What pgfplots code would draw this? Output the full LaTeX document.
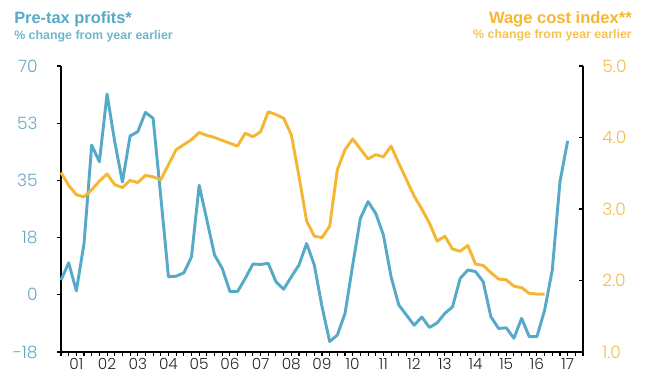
\documentclass[border=0pt]{standalone}
\usepackage{pgfplots}
\usepackage{pgfplotstable}
\pgfplotsset{compat=1.18}
\usepackage{fontspec}
\setmainfont{Liberation Sans}
\IfFontExistsTF{Poppins Light}
  {\newfontfamily\tickfont{Poppins Light}}
  {\newfontfamily\tickfont{Poppins}}

\definecolor{profitblue}{RGB}{86,170,200}
\definecolor{wageorange}{RGB}{245,183,49}
\definecolor{bluelabel}{RGB}{105,168,195}
\definecolor{orangelabel}{RGB}{242,188,82}

% quarter index (0 = Q1 2001), pre-tax profits, % change y/y
\pgfplotstableread{
q v
0 4.5
1 9.8
2 1.2
3 15.7
4 45.8
5 40.7
6 61.4
7 46.8
8 34.5
9 48.6
10 49.9
11 55.8
12 54.0
13 30.0
14 5.5
15 5.7
16 6.7
17 11.6
18 33.5
19 22.9
20 12.2
21 8.1
22 1.0
23 1.0
24 5.0
25 9.4
26 9.3
27 9.6
28 4.0
29 1.7
30 5.5
31 9.1
32 15.7
33 9.1
34 -3.6
35 -14.3
36 -12.3
37 -5.7
38 9.1
39 23.4
40 28.5
41 24.9
42 18.3
43 5.5
44 -3.1
45 -6.2
46 -9.3
47 -6.8
48 -10.0
49 -8.6
50 -5.7
51 -3.7
52 5.0
53 7.6
54 7.1
55 4.0
56 -6.7
57 -10.3
58 -10.1
59 -13.3
60 -7.2
61 -12.8
62 -12.8
63 -4.7
64 7.6
65 34.6
66 47.1
}\profits

% quarter index, wage cost index, % change y/y
\pgfplotstableread{
q v
0 3.51
1 3.33
2 3.20
3 3.17
4 3.27
5 3.39
6 3.49
7 3.34
8 3.30
9 3.40
10 3.37
11 3.47
12 3.45
13 3.41
14 3.62
15 3.83
16 3.90
17 3.97
18 4.07
19 4.03
20 4.00
21 3.96
22 3.92
23 3.88
24 4.06
25 4.01
26 4.08
27 4.36
28 4.32
29 4.27
30 4.04
31 3.46
32 2.83
33 2.62
34 2.60
35 2.76
36 3.55
37 3.83
38 3.98
39 3.84
40 3.70
41 3.76
42 3.73
43 3.88
44 3.64
45 3.41
46 3.18
47 3.00
48 2.80
49 2.55
50 2.62
51 2.44
52 2.41
53 2.49
54 2.23
55 2.21
56 2.11
57 2.02
58 2.01
59 1.92
60 1.90
61 1.82
62 1.81
63 1.81
}\wages

\begin{document}
\begin{tikzpicture}[x=0.75pt,y=0.75pt]
\useasboundingbox (0,0) rectangle (646,378);

\node[anchor=base west, inner sep=0pt, text=profitblue,
      font=\bfseries\fontsize{12.3}{14}\selectfont] at (14,354) {Pre-tax profits*};
\node[anchor=base west, inner sep=0pt, text=profitblue!85,
      font=\bfseries\fontsize{9.3}{11}\selectfont] at (14,338) {\% change from year earlier};
\node[anchor=base east, inner sep=0pt, text=wageorange,
      font=\bfseries\fontsize{12.4}{14}\selectfont] at (632,354) {Wage cost index**};
\node[anchor=base east, inner sep=0pt, text=wageorange!85,
      font=\bfseries\fontsize{9.3}{11}\selectfont] at (632,339) {\% change from year earlier};

\pgfplotsset{
  common/.style={
    at={(45.75pt,19.5pt)}, anchor=south west,
    scale only axis, width=391.5pt, height=214.5pt,
    xmin=0, xmax=68,
    axis line style={line width=1.1pt, black},
    every tick/.style={black, line width=0.8pt},
    clip=false,
  }
}

\begin{axis}[common,
  axis x line*=bottom, axis y line*=left,
  ymin=-17.5, ymax=70,
  ytick={-17.5,0,17.5,35,52.5,70},
  yticklabels={-18,0,18,35,53,70},
  xtick={0,...,68}, xticklabels={},
  extra x ticks={2,6,...,66},
  extra x tick labels={01,02,03,04,05,06,07,08,09,10,11,12,13,14,15,16,17},
  extra x tick style={major tick length=0pt},
  tick align=outside, major tick length=3pt,
  yticklabel style={font=\tickfont\fontsize{12.8}{15}\selectfont, text=bluelabel, xshift=-11pt},
  xticklabel style={font=\tickfont\fontsize{11.5}{13}\selectfont, text=black!85, yshift=-1pt},
]
\addplot[profitblue, line width=2.2pt, line join=round] table[x=q, y=v] {\profits};
\end{axis}

\begin{axis}[common,
  axis y line*=right, axis x line=none,
  ymin=1, ymax=5,
  ytick={1,2,3,4,5},
  yticklabels={1.0,2.0,3.0,4.0,5.0},
  tick align=inside, major tick length=3pt,
  yticklabel style={font=\tickfont\fontsize{12.8}{15}\selectfont, text=orangelabel, xshift=11pt},
]
\addplot[wageorange, line width=2.2pt, line join=round] table[x=q, y=v] {\wages};
\end{axis}
\end{tikzpicture}
\end{document}
